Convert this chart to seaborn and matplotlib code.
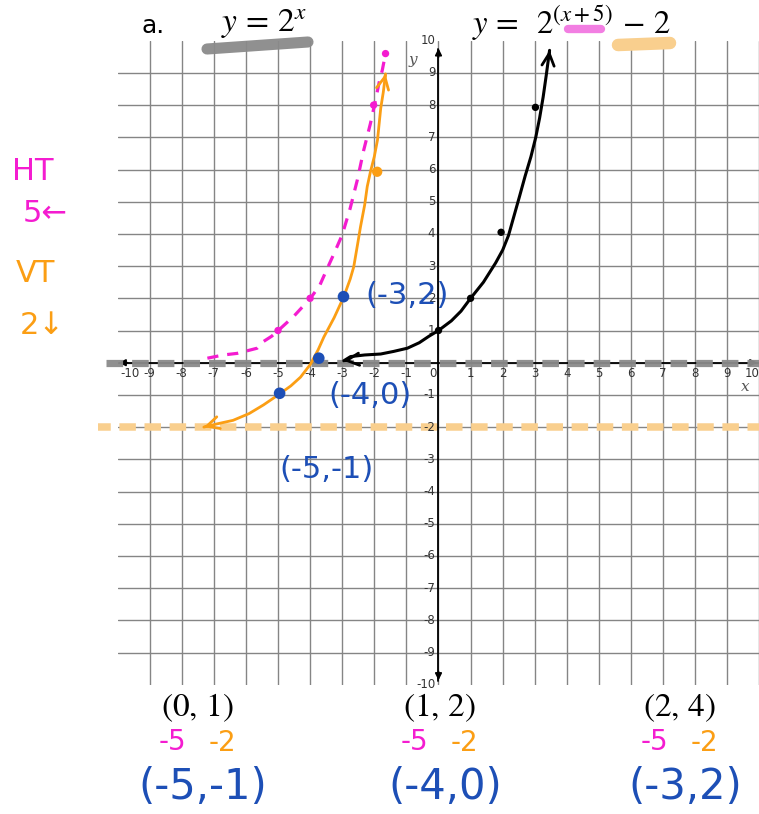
import matplotlib
matplotlib.use('Agg')
import matplotlib.pyplot as plt
from matplotlib.lines import Line2D
import seaborn as sns
import pandas as pd

# ── DATA ────────────────────────────────────────────────────────────────────
# parent y = 2^x, hand-drawn
black_x = [-2.95, -2.74, -2.3, -1.8, -1.4, -0.97, -0.6, -0.3, 0.0, 0.4, 0.7, 1.0, 1.4, 1.78, 2.0,
           2.18, 2.35, 2.52, 2.7, 2.88, 3.03, 3.15, 3.26, 3.36, 3.46]
black_y = [0.06, 0.19, 0.24, 0.27, 0.35, 0.45, 0.62, 0.82, 1.0, 1.3, 1.6, 2.0, 2.5, 3.1, 3.5,
           3.95, 4.55, 5.15, 5.8, 6.4, 7.0, 7.6, 8.25, 8.95, 9.7]
black_pts_x = [0, 1, 1.95, 3.02]
black_pts_y = [1, 2, 4.05, 7.93]

# horizontal shift y = 2^(x+5), dashed pink
pink_x = [-7.2, -6.7, -6.27, -5.65, -5.45, -5.2, -4.97, -4.5, -3.99, -3.7, -3.5, -3.25, -3.0, -2.75,
          -2.53, -2.33, -2.12, -1.96, -1.85, -1.75, -1.65]
pink_y = [0.14, 0.24, 0.29, 0.45, 0.66, 0.82, 1.02, 1.45, 2.0, 2.4, 2.85, 3.4, 3.97, 4.8,
          5.67, 6.6, 7.43, 8.16, 8.7, 9.09, 9.6]
pink_pts_x = [-5, -4, -2.02, -1.65]
pink_pts_y = [1, 2, 8.0, 9.6]

# final y = 2^(x+5) - 2, orange
orange_x = [-7.31, -6.9, -6.4, -5.9, -5.45, -4.95, -4.6, -4.3, -3.99, -3.75, -3.57, -3.25, -2.95,
            -2.75, -2.64, -2.5, -2.43, -2.3, -2.22, -2.12, -2.0, -1.9, -1.8, -1.72, -1.65]
orange_y = [-2.0, -1.9, -1.79, -1.58, -1.31, -0.97, -0.72, -0.45, -0.05, 0.4, 0.8, 1.4, 2.05,
            2.6, 2.98, 3.8, 4.22, 4.9, 5.47, 5.93, 6.4, 6.92, 7.9, 8.4, 8.97]
orange_pts_x = [-1.91]
orange_pts_y = [5.93]

blue_pts_x = [-2.96, -3.73, -4.95]
blue_pts_y = [2.05, 0.14, -0.95]

asymptote_old = 0
asymptote_new = -2

x_ticks = list(range(-10, 11))
y_ticks = [v for v in range(-10, 11) if v != 0]

parent_points = ["(0, 1)", "(1, 2)", "(2, 4)"]
new_points = ["(-5,-1)", "(-4,0)", "(-3,2)"]
blue_labels = ["(-3,2)", "(-4,0)", "(-5,-1)"]

# ── COLOURS ─────────────────────────────────────────────────────────────────
PINK = "#f41cd0"
ORANGE = "#fb9e14"
BLUE = "#1d4fb6"
GRAY = "#8a8a8a"
LIGHT_OR = "#f9cf8e"

sns.set_style("white")
plt.rcParams["font.family"] = ["DejaVu Sans"]
plt.rcParams["mathtext.fontset"] = "stix"

W, H = 759, 814
fig = plt.figure(figsize=(W / 100, H / 100), dpi=100)
ax = fig.add_axes([117.5 / W, 1 - 684.7 / H, 642 / W, 644 / H])
ax.set_xlim(-10, 10)
ax.set_ylim(-10, 10)
for s in ax.spines.values():
    s.set_visible(False)
ax.set_xticks(range(-9, 11))
ax.set_yticks(range(-9, 10))
ax.tick_params(length=0, labelbottom=False, labelleft=False)
ax.grid(True, color="#858585", lw=1.0)


def fx(px):
    return px / W


def fy(py):
    return 1 - py / H


# ── AXES LINES ──────────────────────────────────────────────────────────────
ax.plot([-9.95, 10], [0, 0], color="black", lw=1.3, zorder=3, clip_on=False)
ax.plot([0, 0], [-9.9, 9.75], color="black", lw=1.3, zorder=3, clip_on=False)
akw = dict(arrowstyle="-|>", color="black", lw=1.2, mutation_scale=10)
ax.annotate("", xy=(-10.05, 0), xytext=(-9.6, 0), arrowprops=akw, annotation_clip=False, zorder=4)
ax.annotate("", xy=(10.02, 0), xytext=(9.6, 0), arrowprops=akw, annotation_clip=False, zorder=4)
ax.annotate("", xy=(0, 9.85), xytext=(0, 9.4), arrowprops=akw, annotation_clip=False, zorder=4)
ax.annotate("", xy=(0, -9.95), xytext=(0, -9.5), arrowprops=akw, annotation_clip=False, zorder=4)

# tick labels next to the axes
for v in x_ticks:
    xpos = v
    if v == 0:
        xpos = -0.18
    elif v == -10:
        xpos = -9.6
    elif v == 10:
        xpos = 9.78
    ax.text(xpos, -0.35, str(v), ha="center", va="center", fontsize=8.5, color="#333333", zorder=5)
for v in y_ticks:
    ax.text(-0.1, v, str(v), ha="right", va="center", fontsize=8.5, color="#333333", zorder=5)
ax.text(-0.8, 9.4, "y", fontsize=11, color="#555555", style="italic", family="serif", ha="center", va="center")
ax.text(9.55, -0.75, "x", fontsize=11, color="#555555", style="italic", family="serif", ha="center", va="center")

# ── ASYMPTOTES (thick highlighter dashes) ───────────────────────────────────
ax.plot([-10.37, 10], [asymptote_old] * 2, color=GRAY, lw=5.2, alpha=0.95,
        linestyle=(0, (2.3, 1.25)), solid_capstyle="butt", clip_on=False, zorder=4)
ax.plot([-10.62, 10], [asymptote_new] * 2, color=LIGHT_OR, lw=5.4,
        linestyle=(0.5, (2.2, 1.15)), solid_capstyle="butt", clip_on=False, zorder=2)

# ── CURVES ──────────────────────────────────────────────────────────────────
df_black = pd.DataFrame({"x": black_x, "y": black_y})
df_pink = pd.DataFrame({"x": pink_x, "y": pink_y})
df_orange = pd.DataFrame({"x": orange_x, "y": orange_y})

sns.lineplot(data=df_pink, x="x", y="y", ax=ax, color=PINK, lw=2.3, estimator=None,
             linestyle=(0, (3.5, 2.8)), zorder=5)
sns.lineplot(data=df_orange, x="x", y="y", ax=ax, color=ORANGE, lw=2.0, estimator=None,
             solid_joinstyle="round", zorder=6)
sns.lineplot(data=df_black, x="x", y="y", ax=ax, color="black", lw=2.2, estimator=None,
             solid_joinstyle="round", zorder=6)

hw = dict(arrowstyle="->", lw=2.0, mutation_scale=22)
ax.annotate("", xy=(black_x[0], black_y[0]), xytext=(black_x[0] + 0.05, black_y[0] + 0.005),
            arrowprops=dict(hw, color="black"), zorder=7)
ax.annotate("", xy=(black_x[-1], black_y[-1]), xytext=(black_x[-1] - 0.005, black_y[-1] - 0.05),
            arrowprops=dict(hw, color="black"), zorder=7)
ax.annotate("", xy=(orange_x[0], orange_y[0]), xytext=(orange_x[0] + 0.05, orange_y[0] + 0.015),
            arrowprops=dict(hw, color=ORANGE), zorder=7)
ax.annotate("", xy=(orange_x[-1], orange_y[-1]), xytext=(orange_x[-1] - 0.01, orange_y[-1] - 0.05),
            arrowprops=dict(hw, color=ORANGE), zorder=7)

# ── POINTS ──────────────────────────────────────────────────────────────────
sns.scatterplot(x=black_pts_x, y=black_pts_y, ax=ax, color="black", s=28, edgecolor="none", zorder=8)
sns.scatterplot(x=pink_pts_x, y=pink_pts_y, ax=ax, color=PINK, s=28, edgecolor="none", zorder=8)
sns.scatterplot(x=orange_pts_x, y=orange_pts_y, ax=ax, color=ORANGE, s=55, edgecolor="none", zorder=8)
sns.scatterplot(x=blue_pts_x, y=blue_pts_y, ax=ax, color=BLUE, s=70, edgecolor="none", zorder=8)

# blue handwritten coordinates on the grid
fig.text(fx(407), fy(295), blue_labels[0], color=BLUE, fontsize=22, ha="center", va="center")
fig.text(fx(370), fy(396), blue_labels[1], color=BLUE, fontsize=22, ha="center", va="center")
fig.text(fx(326), fy(469), blue_labels[2], color=BLUE, fontsize=22, ha="center", va="center")

# ── TITLES & HIGHLIGHTS ─────────────────────────────────────────────────────
fig.add_artist(Line2D([fx(207), fx(308)], [fy(49), fy(42)], color=GRAY, lw=8,
                      solid_capstyle="round", alpha=0.95))
fig.add_artist(Line2D([fx(568), fx(601)], [fy(29), fy(29)], color="#f27ee2", lw=6,
                      solid_capstyle="round"))
fig.add_artist(Line2D([fx(618), fx(670)], [fy(45), fy(43)], color=LIGHT_OR, lw=9,
                      solid_capstyle="round"))
fig.text(fx(153), fy(26), "a.", fontsize=18, ha="center", va="center", color="black")
fig.text(fx(264), fy(24), r"$y\,=\,2^{x}$", fontsize=24, ha="center", va="center", color="black")
fig.text(fx(571), fy(24), r"$y\,=\;\;2^{(x+5)}\,-\,2$", fontsize=23.5, ha="center", va="center", color="black")

# left notes
fig.text(fx(33), fy(172), "HT", color=PINK, fontsize=22, ha="center", va="center")
fig.text(fx(45), fy(214), "5←", color=PINK, fontsize=22, ha="center", va="center")
fig.text(fx(35), fy(273), "VT", color=ORANGE, fontsize=22, ha="center", va="center")
fig.text(fx(42), fy(325), "2↓", color=ORANGE, fontsize=22, ha="center", va="center")

# ── BELOW THE GRID: point mapping ───────────────────────────────────────────
cols = [198, 440, 680]
for cx, parent, new in zip(cols, parent_points, new_points):
    fig.text(fx(cx), fy(707), "$" + parent.replace(" ", r"\,") + "$", fontsize=24,
             ha="center", va="center", color="black")
    fig.text(fx(cx - 26), fy(742), "-5", color=PINK, fontsize=20, ha="center", va="center")
    fig.text(fx(cx + 24), fy(743), "-2", color=ORANGE, fontsize=20, ha="center", va="center")
    fig.text(fx(cx + 5), fy(787), new, color=BLUE, fontsize=30, ha="center", va="center")

fig.savefig("out.png", dpi=100)
